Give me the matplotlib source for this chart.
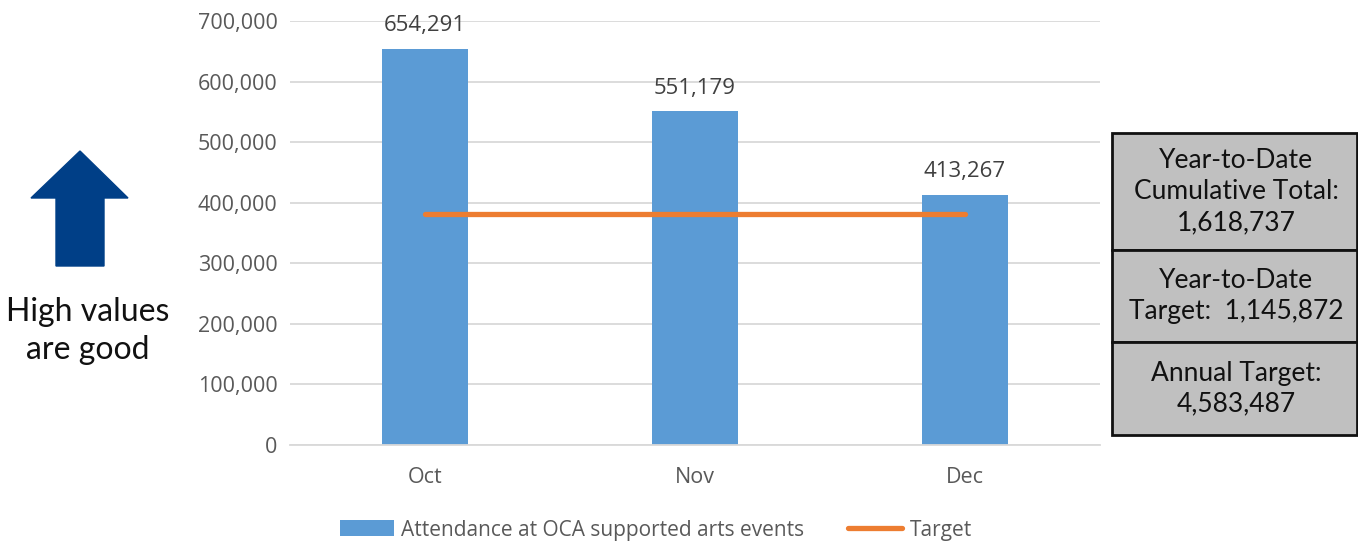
import matplotlib
matplotlib.use("Agg")
import matplotlib.pyplot as plt
from matplotlib.patches import Polygon, Rectangle
from matplotlib.ticker import FuncFormatter

months = ["Oct", "Nov", "Dec"]
attendance = [654291, 551179, 413267]
ytd_total = 1618737
ytd_target = 1145872
annual_target = 4583487
monthly_target = ytd_target / len(months)

plt.rcParams["font.family"] = ["Lato", "DejaVu Sans"]
label_font = ["Open Sans", "DejaVu Sans"]

fig = plt.figure(figsize=(13.58, 5.42), dpi=100)
ax = fig.add_axes([0.2135, 0.179, 0.5965, 0.782])

x = list(range(len(months)))
bars = ax.bar(x, attendance, width=0.32, color="#5b9bd5", zorder=2,
              label="Attendance at OCA supported arts events")
line, = ax.plot([x[0], x[-1]], [monthly_target] * 2, color="#ed7d31", lw=3.8,
                solid_capstyle="round", zorder=3, label="Target")

for xi, v in zip(x, attendance):
    ax.annotate(f"{v:,}", (xi, v), xytext=(0, 9), textcoords="offset points",
                ha="center", va="bottom", fontsize=16, color="#404040",
                family=label_font)

ax.set_xlim(-0.5, 2.5)
ax.set_ylim(0, 700000)
ax.set_yticks(range(0, 700001, 100000))
ax.yaxis.set_major_formatter(FuncFormatter(lambda v, p: f"{int(v):,}"))
ax.set_xticks(x)
ax.set_xticklabels(months)
ax.grid(axis="y", color="#d9d9d9", lw=1.3, zorder=0)
for s in ["top", "right", "left"]:
    ax.spines[s].set_visible(False)
ax.spines["bottom"].set_color("#d9d9d9")
ax.spines["bottom"].set_linewidth(1.3)
ax.tick_params(length=0, labelsize=15.5, labelcolor="#595959")
ax.tick_params(axis="x", pad=16)
ax.tick_params(axis="y", pad=9)
for lab in ax.get_xticklabels() + ax.get_yticklabels():
    lab.set_family(label_font)

leg = fig.legend(handles=[bars, line], loc="center",
                 bbox_to_anchor=(0.483, 0.022), ncol=2, frameon=False,
                 handlelength=2.6, handleheight=0.8, columnspacing=2.1,
                 handletextpad=0.35, prop={"family": label_font, "size": 15})
for t in leg.get_texts():
    t.set_color("#595959")

# overlay in pixel units for the arrow and the summary box
ov = fig.add_axes([0, 0, 1, 1])
ov.set_xlim(0, 1358)
ov.set_ylim(542, 0)
ov.axis("off")
ov.patch.set_alpha(0)

arrow = Polygon([(56, 266), (56, 198), (31, 198), (80, 151), (128, 198),
                 (104, 198), (104, 266)], closed=True, color="#003f87")
ov.add_patch(arrow)
ov.text(88, 331, "High values\nare good", ha="center", va="center",
        fontsize=23, color="#111111", linespacing=1.33)

cells = [(133, 250, f"Year-to-Date\nCumulative Total:\n{ytd_total:,}"),
         (250, 342, f"Year-to-Date\nTarget:  {ytd_target:,}"),
         (342, 435, f"Annual Target:\n{annual_target:,}")]
for top, bot, txt in cells:
    ov.add_patch(Rectangle((1112, top), 245, bot - top, facecolor="#c0c0c0",
                           edgecolor="#111111", lw=2))
    ov.text(1236, (top + bot) / 2, txt, ha="center", va="center",
            fontsize=19, color="#111111", linespacing=1.3)

fig.savefig("out.png", dpi=100)
